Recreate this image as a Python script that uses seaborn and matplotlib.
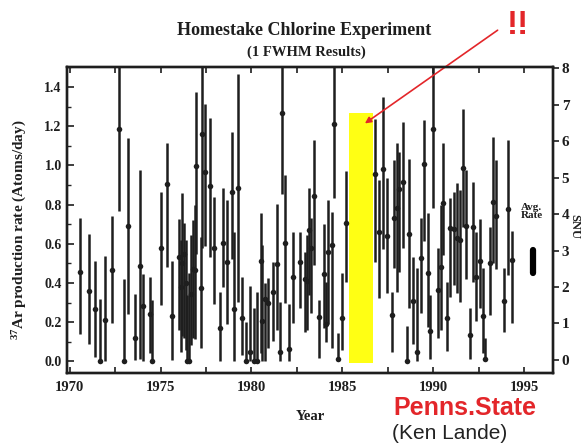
import numpy as np
import pandas as pd
import matplotlib
matplotlib.use("Agg")
import matplotlib.pyplot as plt
from matplotlib.ticker import MultipleLocator
import seaborn as sns

# Homestake runs: run date (year), 37Ar production rate and 1-FWHM limits (atoms/day)
years = [1970.57, 1971.08, 1971.40, 1971.67, 1971.93, 1972.33, 1972.73, 1973.01, 1973.21, 1973.61,
         1973.87, 1974.02, 1974.41, 1974.53, 1975.04, 1975.36, 1975.63, 1976.00, 1976.11, 1976.20,
         1976.29, 1976.38, 1976.47, 1976.58, 1976.66, 1976.76, 1976.88, 1976.97, 1977.21, 1977.28,
         1977.46, 1977.71, 1977.93, 1978.26, 1978.45, 1978.67, 1978.92, 1979.07, 1979.25, 1979.48,
         1979.70, 1979.94, 1980.16, 1980.32, 1980.51, 1980.60, 1980.75, 1980.93, 1981.17, 1981.39,
         1981.57, 1981.68, 1981.85, 1982.08, 1982.27, 1982.69, 1982.93, 1983.06, 1983.18, 1983.30,
         1983.43, 1983.73, 1983.98, 1984.10, 1984.21, 1984.43, 1984.53, 1984.76, 1984.98, 1985.20,
         1986.81, 1987.04, 1987.26, 1987.44, 1987.73, 1987.86, 1988.01, 1988.14, 1988.36, 1988.54,
         1988.69, 1988.87, 1989.11, 1989.33, 1989.51, 1989.70, 1989.84, 1989.97, 1990.25, 1990.45,
         1990.56, 1990.74, 1990.94, 1991.14, 1991.31, 1991.47, 1991.62, 1991.82, 1992.02, 1992.17,
         1992.37, 1992.57, 1992.72, 1992.87, 1993.14, 1993.29, 1993.45, 1993.92, 1994.11, 1994.33]

rates = [0.455, 0.360, 0.268, 0.000, 0.212, 0.465, 1.186, 0.000, 0.691, 0.118,
         0.489, 0.285, 0.241, 0.000, 0.581, 0.904, 0.232, 0.535, 0.380, 0.500,
         0.547, 0.400, 0.000, 0.000, 0.343, 0.470, 0.467, 0.999, 0.373, 1.159,
         0.968, 0.897, 0.581, 0.170, 0.603, 0.509, 0.866, 0.266, 0.884, 0.220,
         0.000, 0.050, 0.000, 0.000, 0.513, 0.207, 0.320, 0.297, 0.356, 0.496,
         0.050, 1.266, 0.603, 0.064, 0.433, 0.506, 0.421, 0.411, 0.671, 0.578,
         0.846, 0.229, 0.445, 0.190, 0.560, 0.594, 1.210, 0.013, 0.224, 0.705,
         0.955, 0.659, 0.980, 0.642, 0.237, 0.734, 0.785, 0.880, 0.914, 0.000,
         0.649, 0.309, 0.050, 0.527, 1.006, 0.450, 0.156, 1.186, 0.365, 0.484,
         0.807, 0.220, 0.680, 0.676, 0.629, 0.620, 0.989, 0.693, 0.135, 0.688,
         0.433, 0.514, 0.234, 0.013, 0.501, 0.815, 0.744, 0.310, 0.778, 0.518]

lows = [0.139, 0.088, 0.025, 0.000, 0.000, 0.195, 0.768, 0.000, 0.241, 0.005,
        0.013, 0.000, 0.042, 0.000, 0.288, 0.484, 0.008, 0.160, 0.050, 0.130,
        0.122, 0.060, 0.000, 0.000, 0.084, 0.120, 0.115, 0.547, 0.067, 0.581,
        0.591, 0.535, 0.292, 0.000, 0.382, 0.190, 0.523, 0.000, 0.305, 0.033,
        0.000, 0.000, 0.000, 0.000, 0.045, 0.000, 0.000, 0.067, 0.105, 0.161,
        0.000, 0.853, 0.297, 0.000, 0.195, 0.271, 0.149, 0.161, 0.339, 0.246,
        0.492, 0.016, 0.173, 0.101, 0.190, 0.067, 0.833, 0.000, 0.059, 0.407,
        0.506, 0.326, 0.575, 0.348, 0.050, 0.475, 0.356, 0.458, 0.578, 0.000,
        0.271, 0.088, 0.000, 0.246, 0.615, 0.178, 0.013, 0.782, 0.118, 0.161,
        0.543, 0.054, 0.331, 0.390, 0.348, 0.305, 0.688, 0.421, 0.013, 0.407,
        0.207, 0.271, 0.042, 0.000, 0.237, 0.501, 0.472, 0.152, 0.441, 0.195]

highs = [0.734, 0.649, 0.513, 0.319, 0.540, 0.744, 1.700, 0.421, 1.139, 0.343,
         0.977, 0.448, 0.433, 0.314, 0.863, 1.113, 0.513, 0.727, 0.620, 0.858,
         0.705, 0.620, 0.340, 0.450, 0.645, 0.720, 0.800, 1.373, 0.637, 1.700,
         1.312, 1.244, 0.841, 0.353, 0.887, 0.824, 1.172, 0.662, 1.465, 0.433,
         0.203, 0.387, 0.271, 0.356, 0.756, 0.594, 0.400, 0.428, 0.509, 0.802,
         0.305, 1.700, 0.952, 0.292, 0.662, 0.662, 0.560, 0.645, 0.884, 0.731,
         1.130, 0.314, 0.700, 0.407, 0.824, 0.764, 1.700, 0.144, 0.450, 0.972,
         1.237, 0.926, 1.351, 0.935, 0.353, 1.028, 1.113, 1.070, 1.223, 0.180,
         1.033, 0.535, 0.475, 0.731, 1.232, 0.756, 0.339, 1.700, 0.578, 0.798,
         1.113, 0.407, 0.833, 0.866, 0.909, 0.875, 1.288, 0.977, 0.271, 0.918,
         0.662, 0.727, 0.475, 0.118, 0.688, 1.147, 1.028, 0.479, 1.130, 0.666]

# highlighted period (1985.4 - 1986.7) and the long-term average
gap_years = [1985.39, 1986.71]
gap_height = 1.266
avg_year = 1995.51
avg_range = [0.45, 0.57]

xticks = [1970, 1975, 1980, 1985, 1990, 1995]
yticks = [0.0, 0.2, 0.4, 0.6, 0.8, 1.0, 1.2, 1.4]
snu_ticks = [0, 1, 2, 3, 4, 5, 6, 7, 8]
rate_per_snu = 0.1861
snu_offset = 0.0077

runs = pd.DataFrame({"year": years, "rate": rates, "low": lows, "high": highs})

sns.set_theme(style="ticks")
plt.rcParams["font.family"] = ["Liberation Serif", "DejaVu Serif"]
plt.rcParams["font.weight"] = "bold"
plt.rcParams["mathtext.fontset"] = "custom"
plt.rcParams["mathtext.rm"] = "Liberation Serif:bold"
plt.rcParams["mathtext.it"] = "Liberation Serif:bold"
plt.rcParams["mathtext.bf"] = "Liberation Serif:bold"

ink = "#1e1e1e"
fig = plt.figure(figsize=(5.82, 4.44), dpi=100)
fig.patch.set_facecolor("white")
ax = fig.add_axes([0.1156, 0.160, 0.8351, 0.6898])
ax.set_facecolor("white")

xlim = (1969.87, 1996.61)
ylim = (-0.0587, 1.504)

# yellow band over the 1985-86 shutdown
ax.fill_between(gap_years, [-0.01, -0.01], [gap_height, gap_height],
                color="#ffff14", lw=0, zorder=1)

ax.vlines(runs["year"], runs["low"], runs["high"], color=ink, lw=1.8, zorder=2)
sns.scatterplot(data=runs, x="year", y="rate", ax=ax, color=ink, s=16,
                linewidth=0, zorder=3, legend=False)

ax.plot([avg_year, avg_year], avg_range, color="black", lw=4.5,
        solid_capstyle="round", zorder=3)
ax.text(avg_year - 0.1, 0.765, "Avg.\nRate", ha="center", va="center",
        fontsize=8, fontweight="bold", linespacing=0.9, color=ink)

ax.set_xlim(*xlim)
ax.set_ylim(*ylim)
ax.set_xticks(xticks)
ax.set_xticklabels([str(t) for t in xticks])
ax.xaxis.set_minor_locator(MultipleLocator(2.5))
ax.set_yticks(yticks)
ax.set_yticklabels([f"{t:.1f}" for t in yticks])
ax.yaxis.set_minor_locator(MultipleLocator(0.1))
ax.tick_params(axis="x", which="both", direction="in", top=True, bottom=True,
               length=4, width=1.2, labelsize=10.5, pad=6, colors=ink)
ax.tick_params(axis="y", which="major", direction="in", left=True, right=False,
               length=5, width=1.2, labelsize=10, pad=4, colors=ink)
ax.tick_params(axis="y", which="minor", direction="in", left=True, right=False,
               length=3, width=1.0)
for lab in ax.get_xticklabels() + ax.get_yticklabels():
    lab.set_fontweight("bold")
for sp in ax.spines.values():
    sp.set_linewidth(1.7)
    sp.set_color(ink)
ax.set_xlabel("Year", fontsize=10.5, fontweight="bold", labelpad=11, color=ink)
ax.set_ylabel("")

# right-hand SNU scale
ax2 = ax.twinx()
ax2.set_ylim((ylim[0] - snu_offset) / rate_per_snu, (ylim[1] - snu_offset) / rate_per_snu)
ax2.set_yticks(snu_ticks)
ax2.set_yticklabels([str(t) for t in snu_ticks])
ax2.tick_params(axis="y", direction="out", length=4, width=1.2, labelsize=11,
                pad=2, colors=ink)
for lab in ax2.get_yticklabels():
    lab.set_fontweight("bold")
for sp in ax2.spines.values():
    sp.set_linewidth(1.7)
    sp.set_color(ink)

fig.text(0.034, 0.482, r"$^{37}$Ar production rate (Atoms/day)", rotation=90,
         ha="center", va="center", fontsize=11, fontweight="bold", color=ink)
fig.text(0.986, 0.49, "SNU", rotation=270, ha="center", va="center",
         fontsize=9, fontweight="bold", color=ink)

fig.text(0.523, 0.932, "Homestake Chlorine Experiment", ha="center", va="center",
         fontsize=13, fontweight="bold", color=ink)
fig.text(0.526, 0.882, "(1 FWHM Results)", ha="center", va="center",
         fontsize=10.5, fontweight="bold", color=ink)

red = "#e3262a"
fig.text(0.89, 0.943, "!!", ha="center", va="center", fontsize=24,
         fontweight="bold", color=red, family=["Liberation Sans", "DejaVu Sans"])
ax.annotate("", xy=(0.627, 0.722), xycoords="figure fraction",
            xytext=(0.855, 0.932), textcoords="figure fraction",
            arrowprops=dict(arrowstyle="-|>", color=red, lw=1.2,
                            mutation_scale=9, shrinkA=0, shrinkB=0))
fig.text(0.799, 0.081, "Penns.State", ha="center", va="center", fontsize=18,
         fontweight="bold", color=red, family=["Liberation Sans", "DejaVu Sans"])
fig.text(0.773, 0.024, "(Ken Lande)", ha="center", va="center", fontsize=15,
         fontweight="normal", color="#222222", family=["Liberation Sans", "DejaVu Sans"])

fig.savefig("out.png", dpi=100, facecolor="white")
